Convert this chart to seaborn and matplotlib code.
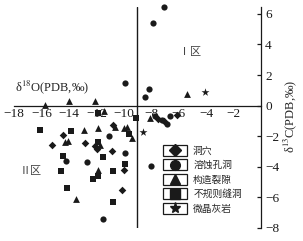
import pandas as pd
import seaborn as sns
import matplotlib.pyplot as plt
from matplotlib.lines import Line2D
from matplotlib.patches import Rectangle
from matplotlib.legend_handler import HandlerBase

sns.set_theme(style="white")
plt.rcParams["font.family"] = ["Liberation Serif", "DejaVu Serif"]
plt.rcParams["mathtext.fontset"] = "stix"

# values (d18O, d13C)
cave_x = [-14.41, -15.23, -12.83, -12.10, -11.97, -10.88, -9.98, -10.16, -10.76, -7.48, -7.07, -6.12]
cave_y = [-1.90, -2.55, -2.44, -2.66, -2.81, -2.97, -4.23, -5.54, -1.24, -0.85, -1.03, -0.59]

pore_x = [-7.07, -7.87, -9.91, -8.16, -8.45, -7.72, -7.24, -6.87, -6.63, -11.08, -9.91, -14.21, -12.70, -11.49, -8.01]
pore_y = [6.47, 5.42, 1.50, 1.11, 0.59, -0.70, -0.92, -1.18, -0.70, -1.99, -3.09, -3.64, -3.71, -7.41, -3.92]

frac_x = [-15.74, -13.97, -12.10, -11.44, -5.39, -8.09, -12.88, -11.88, -10.64, -9.98, -9.76, -9.38, -14.28, -14.06, -11.73, -11.86, -13.48]
frac_y = [0.03, 0.28, 0.33, -0.33, 0.78, -0.78, -1.57, -1.46, -1.39, -1.46, -1.37, -2.11, -2.40, -2.29, -2.55, -4.23, -6.10]

vug_x = [-11.88, -9.11, -16.07, -13.81, -9.62, -11.86, -14.43, -11.49, -9.91, -14.54, -10.81, -11.91, -12.22, -14.14, -10.78]
vug_y = [-0.46, -0.82, -1.60, -1.65, -1.84, -2.35, -3.27, -3.35, -3.79, -4.29, -4.29, -4.62, -4.79, -5.38, -6.27]

mic_x = [-4.08, -8.60]
mic_y = [0.92, -1.70]

names = ["洞穴", "溶蚀孔洞", "构造裂隙", "不规则缝洞", "微晶灰岩"]
marks = ["D", "o", "^", "s", "*"]
sizes = [15, 20, 24, 22, 36]

df = pd.concat([
    pd.DataFrame({"x": cave_x, "y": cave_y, "type": names[0]}),
    pd.DataFrame({"x": pore_x, "y": pore_y, "type": names[1]}),
    pd.DataFrame({"x": frac_x, "y": frac_y, "type": names[2]}),
    pd.DataFrame({"x": vug_x, "y": vug_y, "type": names[3]}),
    pd.DataFrame({"x": mic_x, "y": mic_y, "type": names[4]}),
])

fig = plt.figure(figsize=(3.03, 2.41), dpi=100)
ax = fig.add_axes([14 / 303, 1 - 228 / 241, 247 / 303, 221 / 241])

for n, m, s in zip(names, marks, sizes):
    sns.scatterplot(data=df[df["type"] == n], x="x", y="y", marker=m, s=s,
                    color="k", edgecolor="k", linewidth=0, ax=ax, clip_on=False, zorder=3)

ax.set_xlim(-18, 0)
ax.set_ylim(-8, 6.45)
ax.axvline(-9.05, color="k", lw=1, zorder=2)

# spines: x axis through y=0, y axis on the right
ax.spines["left"].set_visible(False)
ax.spines["top"].set_visible(False)
ax.spines["bottom"].set_position(("data", 0))
for sp in ["bottom", "right"]:
    ax.spines[sp].set_linewidth(0.9)
    ax.spines[sp].set_color("k")
ax.yaxis.tick_right()
ax.set_xticks(range(-18, 0, 2))
ax.set_yticks(range(-8, 7, 2))
ax.tick_params(axis="both", direction="in", length=3, width=0.9, colors="k", labelsize=9.5, pad=2)
ax.tick_params(axis="y", pad=3)
ax.set_xlabel("")
ax.set_ylabel("")

fig.text(290 / 303, 1 - 116 / 241, "δ$^{13}$C(PDB,‰)", rotation=90, ha="center", va="center", fontsize=9)
ax.text(-17.9, 1.2, "δ$^{18}$O(PDB,‰)", ha="left", va="center", fontsize=9)
ax.text(-5.2, 3.5, "Ⅰ区", ha="center", va="center", fontsize=8, color="#444444",
        family=["Noto Sans CJK SC"])
ax.text(-16.8, -4.3, "Ⅱ区", ha="center", va="center", fontsize=8, color="#444444",
        family=["Noto Sans CJK SC"])


# legend keys drawn as a marker inside a small box
class BoxedHandler(HandlerBase):
    def create_artists(self, legend, orig_handle, xdescent, ydescent, width, height, fontsize, trans):
        r = Rectangle((-xdescent, -ydescent), width, height, fill=False, ec="k", lw=0.9, transform=trans)
        mk = Line2D([width / 2 - xdescent], [height / 2 - ydescent], marker=orig_handle.get_marker(),
                    markersize=orig_handle.get_markersize(), color="k", ls="", transform=trans)
        return [r, mk]


handles = [Line2D([], [], marker=m, ls="", color="k", markersize=ms)
           for m, ms in zip(marks, [6, 7, 7, 7, 8])]
leg = ax.legend(handles, names, handler_map={Line2D: BoxedHandler()},
                loc="upper left", bbox_to_anchor=(163 / 303, 1 - 145 / 241), bbox_transform=fig.transFigure,
                frameon=False, borderpad=0, borderaxespad=0, handlelength=2.5, handleheight=1.3,
                handletextpad=0.6, labelspacing=0.4, prop={"family": "Noto Sans CJK SC", "size": 7})

fig.savefig("out.png", dpi=100)
